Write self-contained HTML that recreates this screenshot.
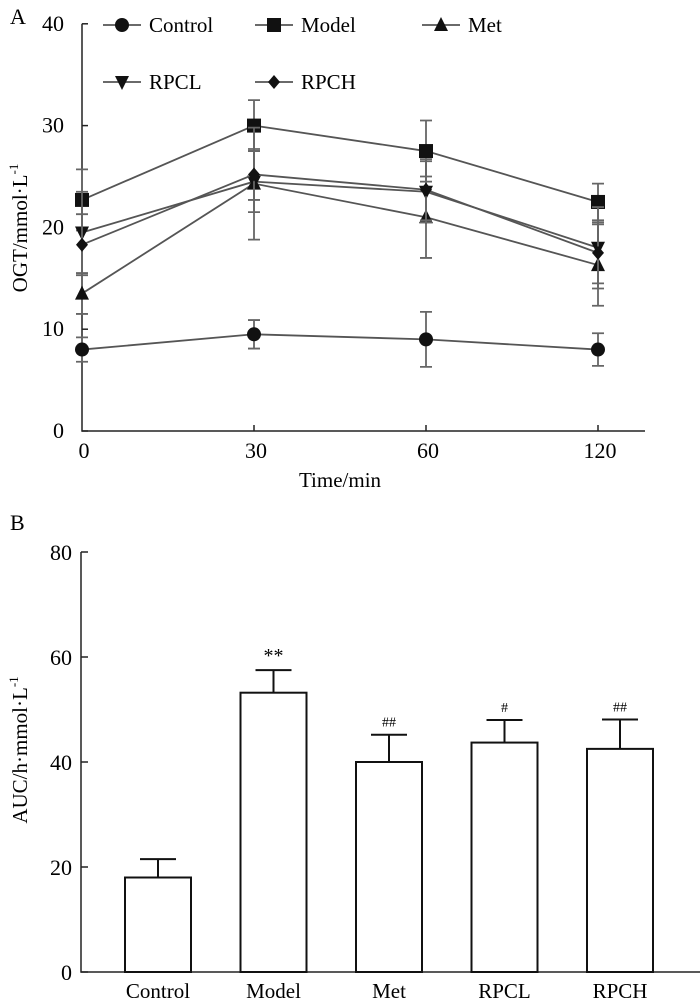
<!DOCTYPE html>
<html><head><meta charset="utf-8">
<style>
body{margin:0;background:#fff;}
svg{display:block;font-family:"Liberation Serif",serif;}
</style></head>
<body>
<svg id="chart" width="700" height="1000" viewBox="0 0 700 1000">
<text x="10" y="24" font-size="22">A</text>
<text x="10" y="530" font-size="22">B</text>
<g id="ga"></g>
<g id="gb"></g>
</svg>
<script>
// Panel A data
const timeCats = ["0","30","60","120"];
const seriesNames = ["Control","Model","Met","RPCL","RPCH"];
const controlVals = [8, 9.5, 9, 8];
const controlErr = [1.2, 1.4, 2.7, 1.6];
const modelVals = [22.7, 30, 27.5, 22.5];
const modelErr = [3, 2.5, 3, 1.8];
const metVals = [13.5, 24.3, 21, 16.3];
const metErr = [2, 5.5, 4, 4];
const rpclVals = [19.5, 24.5, 23.5, 18];
const rpclErr = [4, 3, 3, 4];
const rpchVals = [18.3, 25.2, 23.7, 17.5];
const rpchErr = [3, 2.5, 3, 3];
const yTicksA = [0, 10, 20, 30, 40];
// Panel B data
const groups = ["Control","Model","Met","RPCL","RPCH"];
const aucVals = [18, 53.2, 40, 43.7, 42.5];
const aucErr = [3.5, 4.3, 5.2, 4.3, 5.6];
const aucMarks = ["", "**", "##", "#", "##"];
const yTicksB = [0, 20, 40, 60, 80];

const NS = "http://www.w3.org/2000/svg";
function mk(tag, attrs, parent, txt){
  const e = document.createElementNS(NS, tag);
  for (const k in attrs) e.setAttribute(k, attrs[k]);
  if (txt !== undefined) e.textContent = txt;
  parent.appendChild(e);
  return e;
}
const ga = document.getElementById('ga');
const gb = document.getElementById('gb');

// Panel A scales
const xA = i => 82 + i * 172;
const yA = v => 431 - v * 10.18;

let ax = mk('path', {d:`M82 ${yA(40)} L82 431 L645 431`, stroke:'#222', 'stroke-width':1.5, fill:'none'}, ga);


yTicksA.forEach(t => {
  const y = yA(t);
  const tk = mk('line', {x1:82, x2:88, y1:y, y2:y, stroke:'#222', 'stroke-width':1.5}, ga);
  
  
  const tl = mk('text', {x:64, y:y+7, 'font-size':22, 'text-anchor':'end'}, ga, String(t));
  
  
});
timeCats.forEach((c, i) => {
  const x = xA(i);
  if (i > 0) {
    const tk = mk('line', {x1:x, x2:x, y1:425, y2:431, stroke:'#222', 'stroke-width':1.5}, ga);
    
    
  }
  const tl = mk('text', {x:x+2, y:458, 'font-size':22, 'text-anchor':'middle'}, ga, c);
  
  
});
let xt = mk('text', {x:340, y:487, 'font-size':21, 'text-anchor':'middle'}, ga, 'Time/min');


let yt = mk('text', {transform:'translate(27,228) rotate(-90)', 'font-size':21, 'text-anchor':'middle'}, ga);


yt.innerHTML = 'OGT/mmol·L<tspan font-size="13" dy="-9">-1</tspan>';

function marker(kind, x, y, parent){
  let e;
  if (kind === 0) e = mk('circle', {cx:x, cy:y, r:7, fill:'#111'}, parent);
  else if (kind === 1) e = mk('rect', {x:x-7, y:y-7, width:14, height:14, fill:'#111'}, parent);
  else if (kind === 2) e = mk('polygon', {points:`${x},${y-8} ${x-7},${y+6} ${x+7},${y+6}`, fill:'#111'}, parent);
  else if (kind === 3) e = mk('polygon', {points:`${x},${y+8} ${x-7},${y-6} ${x+7},${y-6}`, fill:'#111'}, parent);
  else e = mk('polygon', {points:`${x},${y-7} ${x-6},${y} ${x},${y+7} ${x+6},${y}`, fill:'#111'}, parent);
  return e;
}

const allVals = [controlVals, modelVals, metVals, rpclVals, rpchVals];
const allErr = [controlErr, modelErr, metErr, rpclErr, rpchErr];
allVals.forEach((vals, s) => {
  const g = mk('g', {}, ga);
  
  
  vals.forEach((v, i) => {
    const x = xA(i), e = allErr[s][i];
    const eb = mk('path', {d:`M${x} ${yA(v+e)} L${x} ${yA(v-e)} M${x-6} ${yA(v+e)} L${x+6} ${yA(v+e)} M${x-6} ${yA(v-e)} L${x+6} ${yA(v-e)}`, stroke:'#666', 'stroke-width':1.8, fill:'none'}, g);
    
    
  });
  const ln = mk('polyline', {points: vals.map((v,i)=>`${xA(i)},${yA(v)}`).join(' '), stroke:'#555', 'stroke-width':1.8, fill:'none'}, g);
  
  
  vals.forEach((v, i) => {
    const m = marker(s, xA(i), yA(v), g);
    
    
  });
});

// Legend
const legPos = [[103,25],[255,25],[422,25],[103,82],[255,82]];
seriesNames.forEach((n, s) => {
  const [lx, ly] = legPos[s];
  const g = mk('g', {}, ga);
  
  
  mk('line', {x1:lx, x2:lx+38, y1:ly, y2:ly, stroke:'#555', 'stroke-width':1.8}, g);
  marker(s, lx+19, ly, g);
  mk('text', {x:lx+46, y:ly+7, 'font-size':21}, g, n);
});

// Panel B
const xB = i => 158 + i * 115.5;
const yB = v => 972 - v * 5.25;
let bx = mk('path', {d:`M81 ${yB(80)} L81 972 L700 972`, stroke:'#222', 'stroke-width':1.5, fill:'none'}, gb);


yTicksB.forEach(t => {
  const y = yB(t);
  const tk = mk('line', {x1:81, x2:88, y1:y, y2:y, stroke:'#222', 'stroke-width':1.5}, gb);
  
  
  const tl = mk('text', {x:72, y:y+8, 'font-size':22, 'text-anchor':'end'}, gb, String(t));
  
  
});
let ytb = mk('text', {transform:'translate(27,750) rotate(-90)', 'font-size':21, 'text-anchor':'middle'}, gb);


ytb.innerHTML = 'AUC/h·mmol·L<tspan font-size="13" dy="-9">-1</tspan>';
groups.forEach((gname, i) => {
  const cx = xB(i), v = aucVals[i], e = aucErr[i];
  const eb = mk('path', {d:`M${cx} ${yB(v)} L${cx} ${yB(v+e)} M${cx-18} ${yB(v+e)} L${cx+18} ${yB(v+e)}`, stroke:'#111', 'stroke-width':2, fill:'none'}, gb);
  
  
  const r = mk('rect', {x:cx-33, y:yB(v), width:66, height:972-yB(v), fill:'#fff', stroke:'#111', 'stroke-width':2}, gb);
  
  
  if (aucMarks[i]) {
    const big = aucMarks[i] === '**';
    const sm = mk('text', {x:cx, y:yB(v+e)-8, 'font-size': big ? 20 : 14, 'text-anchor':'middle'}, gb, aucMarks[i]);
    
    
  }
  const lb = mk('text', {x:cx, y:998, 'font-size':21, 'text-anchor':'middle'}, gb, gname);
  
  
});
</script>
</body></html>
